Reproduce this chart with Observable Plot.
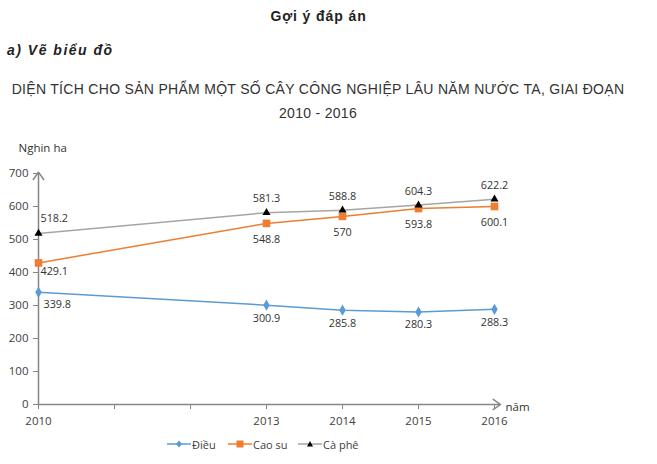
<!DOCTYPE html>
<html><head><meta charset="utf-8">
<script src="https://cdn.jsdelivr.net/npm/d3@7"></script>
<script src="https://cdn.jsdelivr.net/npm/@observablehq/plot@0.6"></script>
<style>
body{margin:0;background:#fff;font-family:"Liberation Sans",Arial,sans-serif;}
#page{position:relative;width:657px;height:464px;overflow:hidden;}
.t{position:absolute;white-space:nowrap;color:#222;}
#chart{position:absolute;left:0;top:140px;}
#legend{position:absolute;left:0;top:436px;width:657px;height:16px;font-size:11px;color:#404040;font-family:"Open Sans",sans-serif;}
#legend .item{position:absolute;top:0;display:flex;align-items:center;height:16px;}
</style></head>
<body><div id="page">
<div class="t" style="left:0;width:637px;text-align:center;top:8px;font-size:14px;letter-spacing:0.9px;font-weight:bold;">Gợi ý đáp án</div>
<div class="t" style="left:7px;top:42px;font-size:14px;letter-spacing:1.5px;font-weight:bold;font-style:italic;">a) Vẽ biểu đồ</div>
<div class="t" style="left:0;width:636px;text-align:center;top:81px;font-size:14px;letter-spacing:0.3px;color:#333;">DIỆN TÍCH CHO SẢN PHẨM MỘT SỐ CÂY CÔNG NGHIỆP LÂU NĂM NƯỚC TA, GIAI ĐOẠN</div>
<div class="t" style="left:0;width:636px;text-align:center;top:105px;font-size:14px;letter-spacing:0.3px;color:#333;">2010 - 2016</div>
<div id="chart"></div>
<div id="legend"></div>
</div>
<script>
const years = [2010, 2013, 2014, 2015, 2016];
const dieu = [339.8, 300.9, 285.8, 280.3, 288.3];
const caoSu = [429.1, 548.8, 570, 593.8, 600.1];
const caPhe = [518.2, 581.3, 588.8, 604.3, 622.2];
const seriesNames = ["Điều", "Cao su", "Cà phê"];
const yTicks = [0, 100, 200, 300, 400, 500, 600, 700];
const xTicks = [2010, 2011, 2012, 2013, 2014, 2015, 2016];
const yUnit = "Nghin ha";
const xUnit = "năm";

const seriesValues = [dieu, caoSu, caPhe];
const lineColors = ["#5b9bd5", "#ed7d31", "#a5a5a5"];
const markColors = ["#5b9bd5", "#ed7d31", "#000000"];
const symbols = ["diamond", "square", "triangle"];
const rows = seriesNames.flatMap((s, i) => years.map((y, j) => ({series: s, year: y, value: seriesValues[i][j], first: j === 0})));
const xDom = [xTicks[0], xTicks[xTicks.length - 1]];
const yDom = [yTicks[0], yTicks[yTicks.length - 1]];
const axisColor = "#868686";
const labelFont = "'Open Sans', sans-serif";

const labelOffsets = {
  "Điều": {dx0: 5, dy0: 12, dy: 13},
  "Cao su": {dx0: 2, dy0: 9, dy: 16},
  "Cà phê": {dx0: 2, dy0: -15, dy: -14}
};
const symbolR = {"Điều": 3.4, "Cao su": 4.3, "Cà phê": 3.0};

const marks = [];
marks.push(Plot.arrow([{x1: xDom[0], y1: yDom[0], x2: xDom[0], y2: yDom[1] + 4}], {x1: "x1", y1: "y1", x2: "x2", y2: "y2", stroke: axisColor, strokeWidth: 1.5, headLength: 9, headAngle: 70, bend: 0}));
marks.push(Plot.arrow([{x1: xDom[0], y1: yDom[0], x2: xDom[1] + 0.08, y2: yDom[0]}], {x1: "x1", y1: "y1", x2: "x2", y2: "y2", stroke: axisColor, strokeWidth: 1.5, headLength: 9, headAngle: 70, bend: 0}));
marks.push(Plot.axisY({ticks: yTicks, tickSize: 5, tickPadding: 5, stroke: axisColor, color: "#404040", fontSize: 11.5, fontFamily: labelFont}));
marks.push(Plot.axisX({ticks: xTicks, tickSize: 5, tickPadding: 7, stroke: axisColor, color: "#404040", fontSize: 11.5, fontFamily: labelFont, tickFormat: d => years.includes(d) ? String(d) : ""}));
seriesNames.forEach((s, i) => {
  const d = rows.filter(r => r.series === s);
  marks.push(Plot.line(d, {x: "year", y: "value", stroke: lineColors[i], strokeWidth: 1.5}));
});
seriesNames.forEach((s, i) => {
  const d = rows.filter(r => r.series === s);
  marks.push(Plot.dot(d, {x: "year", y: "value", symbol: () => symbols[i], fill: markColors[i], stroke: "none", r: symbolR[s]}));
  const o = labelOffsets[s];
  marks.push(Plot.text(d.filter(r => r.first), {x: "year", y: "value", text: r => String(r.value), textAnchor: "start", dx: o.dx0, dy: o.dy0, fill: "#333", fontSize: 10.8, fontFamily: labelFont}));
  marks.push(Plot.text(d.filter(r => !r.first), {x: "year", y: "value", text: r => String(r.value), dy: o.dy, fill: "#333", fontSize: 10.8, fontFamily: labelFont}));
});
marks.push(Plot.text([yUnit], {frameAnchor: "top-left", dx: -20, dy: -25, text: d => d, textAnchor: "start", lineAnchor: "middle", fill: "#333", fontSize: 11.5, fontFamily: labelFont}));
marks.push(Plot.text([xUnit], {x: () => xDom[1], y: () => yDom[0], text: d => d, textAnchor: "start", dx: 11, dy: 3, fill: "#333", fontSize: 11.5, fontFamily: labelFont}));

const chart = Plot.plot({
  width: 657, height: 324,
  marginLeft: 38, marginRight: 163, marginTop: 33, marginBottom: 60,
  x: {domain: xDom, axis: null},
  y: {domain: yDom, axis: null},
  style: {background: "transparent", overflow: "visible"},
  marks
});
document.getElementById("chart").appendChild(chart);

const legend = document.getElementById("legend");
const legendX = [167, 228, 298];
seriesNames.forEach((s, i) => {
  const it = document.createElement("div");
  it.className = "item";
  it.style.left = legendX[i] + "px";
  let sym;
  if (symbols[i] === "diamond") sym = `<path d="M12,4.5 L15,8 L12,11.5 L9,8Z" fill="${markColors[i]}"/>`;
  else if (symbols[i] === "square") sym = `<rect x="8.5" y="4.5" width="7" height="7" fill="${markColors[i]}"/>`;
  else sym = `<path d="M12,5 L15,10.5 L9,10.5Z" fill="${markColors[i]}"/>`;
  it.innerHTML = `<svg width="24" height="16"><line x1="0" x2="24" y1="8" y2="8" stroke="${lineColors[i]}" stroke-width="1.5"/>${sym}</svg><span style="margin-left:1px">${s}</span>`;
  legend.appendChild(it);
});
</script>
</body></html>
